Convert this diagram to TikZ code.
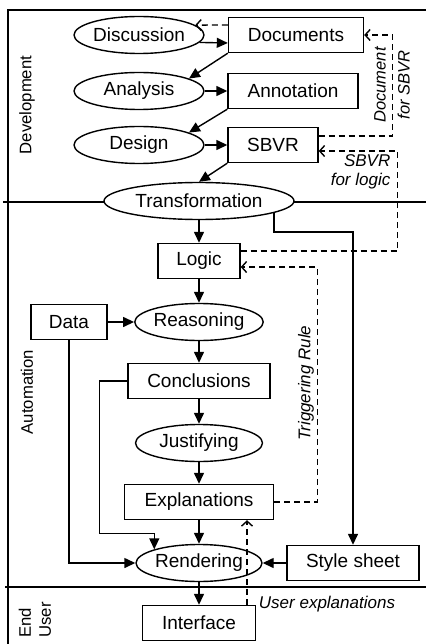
\documentclass[tikz,border=0pt]{standalone}
\usepackage{fontspec}
\setmainfont{Liberation Sans}
\usetikzlibrary{shapes.geometric,arrows.meta}

\begin{document}
\begin{tikzpicture}
[
x=1pt, y=-1pt,
line width=1.4pt,
every node/.style={font=\fontsize{19}{22}\selectfont, inner sep=0pt},
boxnode/.style={rectangle, draw, fill=white, minimum height=35pt},
ovalnode/.style={ellipse, draw, fill=white, minimum height=37pt},
sidelabel/.style={rotate=90, font=\fontsize{16.7}{20}\selectfont},
note/.style={font=\fontsize{17}{19}\selectfont\itshape},
arr/.style={-{Triangle[length=11pt,width=10pt]}},
dasharr/.style={dash pattern=on 6pt off 4pt, -{Straight Barb[length=5pt,width=11pt]}}
]
\useasboundingbox (0,0) rectangle (426,644);

\draw (8,644) -- (8,10) -- (426,10);
\draw (3,202) -- (426,202);
\draw (5,587) -- (426,587);

\node[ovalnode, minimum width=130pt] (disc) at (139,35) {Discussion};
\node[boxnode, minimum width=135pt] (docs) at (296,35) {Documents};
\node[ovalnode, minimum width=130pt] (anal) at (139,91) {Analysis};
\node[boxnode, minimum width=130pt] (annot) at (293,91) {Annotation};
\node[ovalnode, minimum width=130pt] (design) at (139,145) {Design};
\node[boxnode, minimum width=90pt] (sbvr) at (273,145) {SBVR};
\node[ovalnode, minimum width=190pt] (trans) at (199,201) {Transformation};
\node[boxnode, minimum width=82pt] (logic) at (199,261) {Logic};
\node[boxnode, minimum width=76pt] (data) at (69,322) {Data};
\node[ovalnode, minimum width=126pt] (reason) at (199,322) {Reasoning};
\node[boxnode, minimum width=142pt] (concl) at (199,381) {Conclusions};
\node[ovalnode, minimum width=127pt] (justif) at (199,443) {Justifying};
\node[boxnode, minimum width=149pt] (expl) at (199,502) {Explanations};
\node[ovalnode, minimum width=126pt] (render) at (199,563) {Rendering};
\node[boxnode, minimum width=132pt] (sheet) at (353,563) {Style sheet};
\node[boxnode, minimum width=113pt] (iface) at (199,623) {Interface};

\node[sidelabel] (dev) at (27,105) {Development};
\node[sidelabel] (auto) at (27,392) {Automation};
\node[sidelabel, align=left] (enduser) at (35,620) {End\\User};
\node[note, rotate=90, align=center, font=\fontsize{16.5}{24}\selectfont\itshape] (docnote) at (392,85) {Document\\for SBVR};
\node[note, align=right, anchor=east] (sbvrnote) at (391,172) {SBVR\\for logic};
\node[note, rotate=90] (trignote) at (306,383) {Triggering Rule};
\node[note] (usernote) at (327,604) {User explanations};

\draw[dasharr] ([yshift=10pt]docs.west) -- (disc.10.7);
\draw[arr] (disc.-7.9) -- ([yshift=-8pt]docs.west);
\draw[arr] (docs.south west) -- (anal.14);
\draw[arr] (anal) -- (annot);
\draw[arr] (annot.south west) -- (design.14);
\draw[arr] (design) -- (sbvr);
\draw[arr] (sbvr.south west) -- (trans.north);
\draw[dasharr] ([yshift=9pt]sbvr.east) -- ++(74,0) |- (docs.east);
\draw[dasharr] ([yshift=10pt]logic.east) -- ++(157,0) |- ([yshift=-6pt]sbvr.east);
\draw[arr] (trans) -- (logic);
\draw[arr] (trans.-9) -- ++(0,19) -| (sheet);
\draw[arr] (logic) -- (reason);
\draw[arr] (data) -- (reason);
\draw[arr] (reason) -- (concl);
\draw[arr] (concl) -- (justif);
\draw[arr] (justif) -- (expl);
\draw[arr] (expl) -- (render);
\draw[dasharr] (expl.east) -- ++(43,0) |- ([yshift=-6pt]logic.east);
\draw[arr] (concl.west) -- ++(-28,0) |- ([yshift=16pt]render.163) -- (render.163);
\draw[arr] (data) |- (render);
\draw[arr] (sheet) -- (render);
\draw[arr] (render) -- (iface);
\draw[dasharr] ([xshift=48pt]iface.north) -- ([xshift=48pt]iface.north |- expl.south);
\end{tikzpicture}
\end{document}
